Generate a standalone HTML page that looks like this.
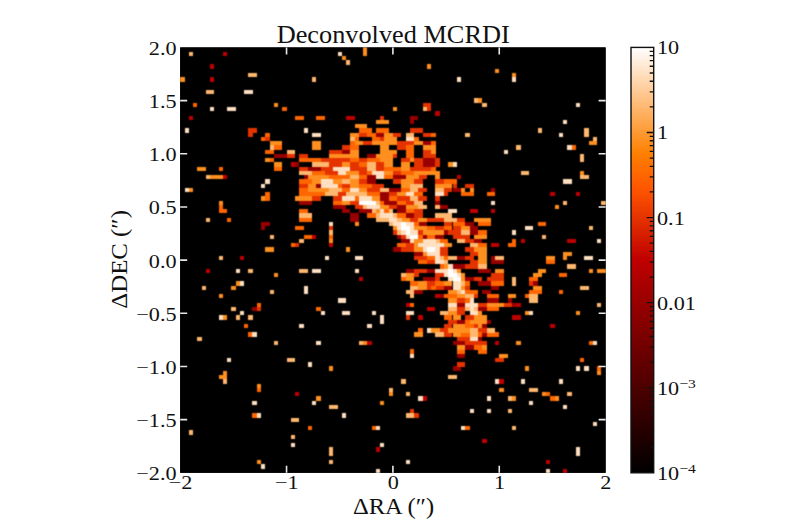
<!DOCTYPE html><html><head><meta charset="utf-8"><style>
html,body{margin:0;padding:0;background:#fff;width:800px;height:530px;overflow:hidden}
svg{display:block}
text{font-family:'Liberation Serif',serif;fill:#111}
</style></head><body>
<svg width="800" height="530" viewBox="0 0 800 530">
<defs>
<filter id="bl" x="0" y="0" width="1" height="1" color-interpolation-filters="sRGB"><feConvolveMatrix order="3" kernelMatrix="0.04 0.12 0.04 0.12 0.36 0.12 0.04 0.12 0.04" edgeMode="duplicate"/></filter>
<linearGradient id="cb" x1="0" y1="1" x2="0" y2="0">
<stop offset="0" stop-color="#000"/>
<stop offset="0.5" stop-color="rgb(191,0,0)"/>
<stop offset="0.6667" stop-color="rgb(255,85,0)"/>
<stop offset="0.75" stop-color="rgb(255,128,0)"/>
<stop offset="1" stop-color="#fff"/>
</linearGradient>
</defs>

<text x="393.2" y="43.2" font-size="24.5" text-anchor="middle" textLength="233" lengthAdjust="spacingAndGlyphs">Deconvolved MCRDI</text>
<rect x="180.2" y="47.4" width="425.40" height="425.40" fill="#000"/>
<svg x="180.2" y="47.4" width="425.40" height="425.40" viewBox="180.2 47.4 425.40 425.40"><g filter="url(#bl)"><rect x="180.2" y="47.4" width="425.40" height="425.40" fill="#000"/><g shape-rendering="crispEdges"><path fill="#990000" d="M409.9 115.5h8.5v4.3h-8.5zM409.9 119.7h4.3v4.3h-4.3zM375.9 132.5h8.5v4.3h-8.5zM422.7 141.0h8.5v4.3h-8.5zM341.9 149.5h8.5v4.3h-8.5zM273.8 153.8h12.8v4.3h-12.8zM367.4 153.8h8.5v4.3h-8.5zM422.7 158.0h12.8v4.3h-12.8zM295.1 162.3h4.3v4.3h-4.3zM422.7 162.3h12.8v4.3h-12.8zM307.8 166.5h12.8v4.3h-12.8zM303.6 175.0h4.3v4.3h-4.3zM367.4 175.0h8.5v4.3h-8.5zM392.9 175.0h12.8v4.3h-12.8zM367.4 179.3h8.5v4.3h-8.5zM316.3 183.5h4.3v4.3h-4.3zM388.6 187.8h12.8v4.3h-12.8zM452.5 187.8h8.5v4.3h-8.5zM490.7 187.8h4.3v4.3h-4.3zM380.1 192.0h8.5v4.3h-8.5zM380.1 196.3h8.5v4.3h-8.5zM299.3 200.5h12.8v4.3h-12.8zM384.4 200.5h12.8v4.3h-12.8zM435.4 200.5h4.3v4.3h-4.3zM333.3 204.8h12.8v4.3h-12.8zM397.2 204.8h8.5v4.3h-8.5zM439.7 204.8h8.5v4.3h-8.5zM341.9 209.1h8.5v4.3h-8.5zM358.9 209.1h12.8v4.3h-12.8zM397.2 209.1h8.5v4.3h-8.5zM350.4 213.3h8.5v4.3h-8.5zM405.7 213.3h8.5v4.3h-8.5zM350.4 217.6h8.5v4.3h-8.5zM261.0 221.8h8.5v4.3h-8.5zM418.4 221.8h8.5v4.3h-8.5zM465.2 221.8h8.5v4.3h-8.5zM261.0 226.1h4.3v4.3h-4.3zM469.5 226.1h8.5v4.3h-8.5zM443.9 230.3h4.3v4.3h-4.3zM469.5 230.3h8.5v4.3h-8.5zM397.2 234.6h4.3v4.3h-4.3zM422.7 234.6h4.3v4.3h-4.3zM435.4 234.6h8.5v4.3h-8.5zM401.4 238.8h8.5v4.3h-8.5zM473.7 238.8h8.5v4.3h-8.5zM392.9 247.3h8.5v4.3h-8.5zM414.2 251.6h8.5v4.3h-8.5zM456.7 255.8h8.5v4.3h-8.5zM490.7 255.8h4.3v4.3h-4.3zM490.7 260.1h12.8v4.3h-12.8zM452.5 264.4h12.8v4.3h-12.8zM405.7 268.6h8.5v4.3h-8.5zM426.9 268.6h8.5v4.3h-8.5zM478.0 268.6h12.8v4.3h-12.8zM422.7 277.1h12.8v4.3h-12.8zM465.2 277.1h8.5v4.3h-8.5zM478.0 281.4h12.8v4.3h-12.8zM533.3 281.4h4.3v4.3h-4.3zM443.9 285.6h8.5v4.3h-8.5zM490.7 285.6h8.5v4.3h-8.5zM414.2 289.9h8.5v4.3h-8.5zM482.2 289.9h8.5v4.3h-8.5zM439.7 294.1h4.3v4.3h-4.3zM486.5 298.4h12.8v4.3h-12.8zM507.8 298.4h4.3v4.3h-4.3zM456.7 302.6h8.5v4.3h-8.5zM512.0 302.6h4.3v4.3h-4.3zM252.5 306.9h4.3v4.3h-4.3zM478.0 306.9h8.5v4.3h-8.5zM456.7 319.7h8.5v4.3h-8.5zM486.5 319.7h4.3v4.3h-4.3zM482.2 323.9h4.3v4.3h-4.3zM482.2 332.4h4.3v4.3h-4.3zM478.0 336.7h4.3v4.3h-4.3zM452.5 340.9h12.8v4.3h-12.8zM465.2 345.2h8.5v4.3h-8.5zM456.7 353.7h8.5v4.3h-8.5zM452.5 366.4h8.5v4.3h-8.5z"/>
<path fill="#bf0000" d="M222.7 51.7h4.3v4.3h-4.3zM210.0 64.4h4.3v4.3h-4.3zM210.0 77.2h4.3v4.3h-4.3zM435.4 111.2h4.3v4.3h-4.3zM188.7 115.5h4.3v4.3h-4.3zM346.1 115.5h8.5v4.3h-8.5zM290.8 162.3h4.3v4.3h-4.3zM222.7 175.0h4.3v4.3h-4.3zM456.7 175.0h4.3v4.3h-4.3zM550.3 192.0h4.3v4.3h-4.3zM575.8 192.0h4.3v4.3h-4.3zM469.5 209.1h8.5v4.3h-8.5zM490.7 209.1h4.3v4.3h-4.3zM312.1 234.6h4.3v4.3h-4.3zM520.5 238.8h4.3v4.3h-4.3zM567.3 238.8h8.5v4.3h-8.5zM329.1 243.1h4.3v4.3h-4.3zM490.7 243.1h8.5v4.3h-8.5zM239.8 255.8h4.3v4.3h-4.3zM205.7 268.6h4.3v4.3h-4.3zM358.9 277.1h4.3v4.3h-4.3zM435.4 294.1h4.3v4.3h-4.3zM405.7 302.6h4.3v4.3h-4.3zM516.3 302.6h4.3v4.3h-4.3zM426.9 306.9h8.5v4.3h-8.5zM418.4 315.4h4.3v4.3h-4.3zM512.0 315.4h8.5v4.3h-8.5zM550.3 323.9h4.3v4.3h-4.3zM367.4 340.9h4.3v4.3h-4.3zM495.0 340.9h4.3v4.3h-4.3zM499.2 379.2h4.3v4.3h-4.3zM295.1 392.0h4.3v4.3h-4.3zM422.7 396.2h4.3v4.3h-4.3zM482.2 438.8h4.3v4.3h-4.3zM375.9 447.3h4.3v4.3h-4.3zM546.0 460.0h4.3v4.3h-4.3zM563.1 468.5h4.3v4.3h-4.3z"/>
<path fill="#e53300" d="M422.7 102.7h8.5v4.3h-8.5zM426.9 107.0h4.3v4.3h-4.3zM380.1 115.5h4.3v4.3h-4.3zM248.3 128.2h8.5v4.3h-8.5zM409.9 128.2h12.8v4.3h-12.8zM248.3 132.5h4.3v4.3h-4.3zM358.9 132.5h8.5v4.3h-8.5zM392.9 132.5h8.5v4.3h-8.5zM422.7 132.5h8.5v4.3h-8.5zM265.3 136.7h4.3v4.3h-4.3zM380.1 136.7h4.3v4.3h-4.3zM363.1 141.0h8.5v4.3h-8.5zM397.2 141.0h17.0v4.3h-17.0zM341.9 145.2h8.5v4.3h-8.5zM397.2 145.2h8.5v4.3h-8.5zM329.1 149.5h12.8v4.3h-12.8zM422.7 149.5h8.5v4.3h-8.5zM286.5 153.8h8.5v4.3h-8.5zM299.3 153.8h8.5v4.3h-8.5zM392.9 153.8h4.3v4.3h-4.3zM422.7 153.8h12.8v4.3h-12.8zM320.6 158.0h29.8v4.3h-29.8zM358.9 158.0h8.5v4.3h-8.5zM401.4 158.0h8.5v4.3h-8.5zM414.2 158.0h8.5v4.3h-8.5zM435.4 158.0h4.3v4.3h-4.3zM329.1 162.3h12.8v4.3h-12.8zM350.4 162.3h8.5v4.3h-8.5zM375.9 162.3h8.5v4.3h-8.5zM414.2 162.3h8.5v4.3h-8.5zM435.4 162.3h4.3v4.3h-4.3zM299.3 166.5h8.5v4.3h-8.5zM320.6 166.5h12.8v4.3h-12.8zM350.4 166.5h17.0v4.3h-17.0zM375.9 166.5h8.5v4.3h-8.5zM409.9 166.5h21.3v4.3h-21.3zM324.8 170.8h12.8v4.3h-12.8zM358.9 170.8h8.5v4.3h-8.5zM392.9 170.8h8.5v4.3h-8.5zM418.4 175.0h8.5v4.3h-8.5zM358.9 179.3h8.5v4.3h-8.5zM392.9 179.3h8.5v4.3h-8.5zM414.2 179.3h8.5v4.3h-8.5zM435.4 179.3h8.5v4.3h-8.5zM299.3 183.5h8.5v4.3h-8.5zM341.9 183.5h8.5v4.3h-8.5zM371.6 183.5h12.8v4.3h-12.8zM452.5 183.5h4.3v4.3h-4.3zM465.2 183.5h8.5v4.3h-8.5zM367.4 187.8h12.8v4.3h-12.8zM418.4 187.8h8.5v4.3h-8.5zM443.9 187.8h8.5v4.3h-8.5zM337.6 192.0h8.5v4.3h-8.5zM388.6 192.0h8.5v4.3h-8.5zM443.9 192.0h4.3v4.3h-4.3zM312.1 196.3h8.5v4.3h-8.5zM333.3 196.3h8.5v4.3h-8.5zM397.2 196.3h12.8v4.3h-12.8zM418.4 196.3h8.5v4.3h-8.5zM435.4 196.3h4.3v4.3h-4.3zM350.4 200.5h8.5v4.3h-8.5zM405.7 200.5h8.5v4.3h-8.5zM354.6 204.8h8.5v4.3h-8.5zM388.6 204.8h8.5v4.3h-8.5zM414.2 209.1h8.5v4.3h-8.5zM414.2 213.3h8.5v4.3h-8.5zM409.9 217.6h8.5v4.3h-8.5zM426.9 217.6h17.0v4.3h-17.0zM456.7 217.6h8.5v4.3h-8.5zM443.9 221.8h8.5v4.3h-8.5zM329.1 226.1h4.3v4.3h-4.3zM435.4 226.1h8.5v4.3h-8.5zM452.5 226.1h8.5v4.3h-8.5zM392.9 230.3h4.3v4.3h-4.3zM418.4 230.3h4.3v4.3h-4.3zM448.2 230.3h12.8v4.3h-12.8zM401.4 234.6h4.3v4.3h-4.3zM452.5 234.6h17.0v4.3h-17.0zM465.2 238.8h8.5v4.3h-8.5zM295.1 243.1h4.3v4.3h-4.3zM405.7 243.1h8.5v4.3h-8.5zM401.4 247.3h12.8v4.3h-12.8zM439.7 247.3h8.5v4.3h-8.5zM465.2 247.3h8.5v4.3h-8.5zM439.7 251.6h8.5v4.3h-8.5zM469.5 251.6h8.5v4.3h-8.5zM414.2 255.8h12.8v4.3h-12.8zM465.2 255.8h8.5v4.3h-8.5zM426.9 260.1h8.5v4.3h-8.5zM469.5 260.1h8.5v4.3h-8.5zM465.2 264.4h12.8v4.3h-12.8zM414.2 268.6h12.8v4.3h-12.8zM414.2 272.9h4.3v4.3h-4.3zM435.4 272.9h8.5v4.3h-8.5zM490.7 272.9h12.8v4.3h-12.8zM435.4 277.1h4.3v4.3h-4.3zM473.7 277.1h8.5v4.3h-8.5zM486.5 277.1h17.0v4.3h-17.0zM426.9 281.4h8.5v4.3h-8.5zM529.0 281.4h4.3v4.3h-4.3zM426.9 285.6h4.3v4.3h-4.3zM435.4 285.6h8.5v4.3h-8.5zM465.2 285.6h4.3v4.3h-4.3zM473.7 294.1h4.3v4.3h-4.3zM456.7 298.4h8.5v4.3h-8.5zM478.0 302.6h8.5v4.3h-8.5zM503.5 302.6h8.5v4.3h-8.5zM256.8 306.9h4.3v4.3h-4.3zM456.7 306.9h8.5v4.3h-8.5zM456.7 311.1h8.5v4.3h-8.5zM405.7 315.4h4.3v4.3h-4.3zM465.2 315.4h8.5v4.3h-8.5zM448.2 319.7h8.5v4.3h-8.5zM443.9 323.9h8.5v4.3h-8.5zM473.7 323.9h4.3v4.3h-4.3zM439.7 328.2h8.5v4.3h-8.5zM478.0 328.2h8.5v4.3h-8.5zM443.9 332.4h8.5v4.3h-8.5zM456.7 336.7h12.8v4.3h-12.8zM465.2 340.9h21.3v4.3h-21.3zM495.0 357.9h8.5v4.3h-8.5zM456.7 362.2h8.5v4.3h-8.5zM409.9 409.0h4.3v4.3h-4.3zM414.2 413.2h4.3v4.3h-4.3z"/>
<path fill="#ff6600" d="M193.0 102.7h4.3v4.3h-4.3zM282.3 107.0h4.3v4.3h-4.3zM295.1 115.5h8.5v4.3h-8.5zM316.3 115.5h8.5v4.3h-8.5zM358.9 128.2h12.8v4.3h-12.8zM375.9 128.2h12.8v4.3h-12.8zM265.3 132.5h4.3v4.3h-4.3zM367.4 132.5h8.5v4.3h-8.5zM431.2 132.5h4.3v4.3h-4.3zM261.0 136.7h4.3v4.3h-4.3zM354.6 136.7h4.3v4.3h-4.3zM371.6 136.7h8.5v4.3h-8.5zM414.2 136.7h4.3v4.3h-4.3zM350.4 141.0h4.3v4.3h-4.3zM431.2 141.0h4.3v4.3h-4.3zM273.8 145.2h8.5v4.3h-8.5zM350.4 145.2h8.5v4.3h-8.5zM405.7 145.2h8.5v4.3h-8.5zM571.6 145.2h4.3v4.3h-4.3zM265.3 149.5h8.5v4.3h-8.5zM405.7 149.5h8.5v4.3h-8.5zM405.7 153.8h8.5v4.3h-8.5zM269.5 158.0h4.3v4.3h-4.3zM299.3 158.0h21.3v4.3h-21.3zM350.4 158.0h8.5v4.3h-8.5zM367.4 158.0h12.8v4.3h-12.8zM358.9 162.3h8.5v4.3h-8.5zM218.5 166.5h4.3v4.3h-4.3zM273.8 166.5h8.5v4.3h-8.5zM384.4 166.5h17.0v4.3h-17.0zM431.2 166.5h4.3v4.3h-4.3zM312.1 170.8h12.8v4.3h-12.8zM367.4 170.8h4.3v4.3h-4.3zM401.4 170.8h12.8v4.3h-12.8zM329.1 175.0h21.3v4.3h-21.3zM358.9 175.0h8.5v4.3h-8.5zM384.4 175.0h8.5v4.3h-8.5zM299.3 179.3h12.8v4.3h-12.8zM443.9 179.3h12.8v4.3h-12.8zM337.6 183.5h4.3v4.3h-4.3zM358.9 183.5h12.8v4.3h-12.8zM299.3 187.8h8.5v4.3h-8.5zM341.9 187.8h8.5v4.3h-8.5zM401.4 187.8h8.5v4.3h-8.5zM265.3 192.0h4.3v4.3h-4.3zM299.3 192.0h25.5v4.3h-25.5zM367.4 192.0h12.8v4.3h-12.8zM414.2 192.0h8.5v4.3h-8.5zM461.0 192.0h12.8v4.3h-12.8zM486.5 192.0h8.5v4.3h-8.5zM265.3 196.3h4.3v4.3h-4.3zM354.6 196.3h4.3v4.3h-4.3zM388.6 196.3h8.5v4.3h-8.5zM333.3 200.5h8.5v4.3h-8.5zM380.1 200.5h4.3v4.3h-4.3zM397.2 200.5h8.5v4.3h-8.5zM218.5 204.8h4.3v4.3h-4.3zM218.5 209.1h8.5v4.3h-8.5zM299.3 209.1h8.5v4.3h-8.5zM384.4 209.1h4.3v4.3h-4.3zM405.7 209.1h8.5v4.3h-8.5zM367.4 213.3h8.5v4.3h-8.5zM397.2 213.3h8.5v4.3h-8.5zM227.0 217.6h4.3v4.3h-4.3zM299.3 217.6h12.8v4.3h-12.8zM414.2 221.8h4.3v4.3h-4.3zM452.5 221.8h12.8v4.3h-12.8zM478.0 221.8h12.8v4.3h-12.8zM537.5 221.8h8.5v4.3h-8.5zM295.1 226.1h8.5v4.3h-8.5zM426.9 226.1h8.5v4.3h-8.5zM443.9 226.1h8.5v4.3h-8.5zM478.0 230.3h8.5v4.3h-8.5zM303.6 234.6h8.5v4.3h-8.5zM329.1 234.6h4.3v4.3h-4.3zM418.4 234.6h4.3v4.3h-4.3zM426.9 234.6h8.5v4.3h-8.5zM439.7 238.8h8.5v4.3h-8.5zM512.0 238.8h4.3v4.3h-4.3zM290.8 243.1h4.3v4.3h-4.3zM397.2 243.1h8.5v4.3h-8.5zM478.0 243.1h8.5v4.3h-8.5zM507.8 243.1h8.5v4.3h-8.5zM426.9 255.8h8.5v4.3h-8.5zM443.9 255.8h4.3v4.3h-4.3zM418.4 260.1h8.5v4.3h-8.5zM546.0 260.1h8.5v4.3h-8.5zM439.7 264.4h4.3v4.3h-4.3zM558.8 272.9h8.5v4.3h-8.5zM401.4 277.1h4.3v4.3h-4.3zM529.0 277.1h8.5v4.3h-8.5zM409.9 281.4h8.5v4.3h-8.5zM435.4 281.4h8.5v4.3h-8.5zM465.2 281.4h4.3v4.3h-4.3zM490.7 281.4h12.8v4.3h-12.8zM431.2 285.6h4.3v4.3h-4.3zM465.2 289.9h12.8v4.3h-12.8zM529.0 289.9h12.8v4.3h-12.8zM558.8 289.9h4.3v4.3h-4.3zM443.9 294.1h12.8v4.3h-12.8zM486.5 294.1h12.8v4.3h-12.8zM524.8 294.1h4.3v4.3h-4.3zM465.2 298.4h4.3v4.3h-4.3zM256.8 302.6h4.3v4.3h-4.3zM409.9 302.6h4.3v4.3h-4.3zM316.3 306.9h4.3v4.3h-4.3zM486.5 306.9h12.8v4.3h-12.8zM443.9 315.4h8.5v4.3h-8.5zM465.2 319.7h4.3v4.3h-4.3zM244.0 323.9h4.3v4.3h-4.3zM465.2 323.9h8.5v4.3h-8.5zM418.4 328.2h4.3v4.3h-4.3zM248.3 332.4h4.3v4.3h-4.3zM461.0 332.4h8.5v4.3h-8.5zM478.0 332.4h4.3v4.3h-4.3zM486.5 332.4h12.8v4.3h-12.8zM588.6 340.9h4.3v4.3h-4.3zM473.7 345.2h8.5v4.3h-8.5zM409.9 349.4h4.3v4.3h-4.3zM456.7 349.4h8.5v4.3h-8.5zM478.0 349.4h8.5v4.3h-8.5zM580.1 357.9h4.3v4.3h-4.3zM597.1 366.4h4.3v4.3h-4.3zM256.8 387.7h4.3v4.3h-4.3zM546.0 392.0h4.3v4.3h-4.3zM550.3 396.2h4.3v4.3h-4.3zM252.5 413.2h4.3v4.3h-4.3zM307.8 426.0h4.3v4.3h-4.3zM371.6 426.0h4.3v4.3h-4.3zM465.2 426.0h4.3v4.3h-4.3z"/>
<path fill="#ff8f1f" d="M363.1 47.4h4.3v4.3h-4.3zM363.1 51.7h4.3v4.3h-4.3zM341.9 55.9h4.3v4.3h-4.3zM426.9 64.4h4.3v4.3h-4.3zM495.0 68.7h4.3v4.3h-4.3zM512.0 72.9h4.3v4.3h-4.3zM180.2 77.2h4.3v4.3h-4.3zM478.0 98.4h4.3v4.3h-4.3zM273.8 102.7h4.3v4.3h-4.3zM392.9 107.0h4.3v4.3h-4.3zM375.9 119.7h12.8v4.3h-12.8zM354.6 124.0h12.8v4.3h-12.8zM350.4 132.5h8.5v4.3h-8.5zM384.4 132.5h8.5v4.3h-8.5zM384.4 136.7h12.8v4.3h-12.8zM269.5 141.0h12.8v4.3h-12.8zM312.1 141.0h8.5v4.3h-8.5zM354.6 141.0h8.5v4.3h-8.5zM371.6 141.0h25.5v4.3h-25.5zM414.2 141.0h8.5v4.3h-8.5zM588.6 141.0h8.5v4.3h-8.5zM312.1 145.2h8.5v4.3h-8.5zM380.1 145.2h8.5v4.3h-8.5zM422.7 145.2h12.8v4.3h-12.8zM350.4 149.5h8.5v4.3h-8.5zM380.1 149.5h17.0v4.3h-17.0zM431.2 149.5h4.3v4.3h-4.3zM329.1 153.8h29.8v4.3h-29.8zM375.9 153.8h17.0v4.3h-17.0zM265.3 158.0h4.3v4.3h-4.3zM380.1 158.0h12.8v4.3h-12.8zM409.9 158.0h4.3v4.3h-4.3zM273.8 162.3h8.5v4.3h-8.5zM341.9 162.3h8.5v4.3h-8.5zM384.4 162.3h8.5v4.3h-8.5zM401.4 162.3h8.5v4.3h-8.5zM448.2 162.3h4.3v4.3h-4.3zM197.2 166.5h8.5v4.3h-8.5zM401.4 166.5h8.5v4.3h-8.5zM346.1 170.8h12.8v4.3h-12.8zM384.4 170.8h8.5v4.3h-8.5zM414.2 170.8h25.5v4.3h-25.5zM580.1 170.8h4.3v4.3h-4.3zM210.0 175.0h12.8v4.3h-12.8zM307.8 175.0h21.3v4.3h-21.3zM405.7 175.0h12.8v4.3h-12.8zM435.4 175.0h4.3v4.3h-4.3zM312.1 179.3h8.5v4.3h-8.5zM333.3 179.3h8.5v4.3h-8.5zM350.4 179.3h8.5v4.3h-8.5zM401.4 179.3h12.8v4.3h-12.8zM307.8 183.5h8.5v4.3h-8.5zM350.4 183.5h8.5v4.3h-8.5zM401.4 183.5h8.5v4.3h-8.5zM435.4 183.5h17.0v4.3h-17.0zM188.7 187.8h4.3v4.3h-4.3zM307.8 187.8h21.3v4.3h-21.3zM358.9 187.8h8.5v4.3h-8.5zM461.0 187.8h4.3v4.3h-4.3zM469.5 187.8h4.3v4.3h-4.3zM397.2 192.0h8.5v4.3h-8.5zM261.0 196.3h4.3v4.3h-4.3zM295.1 196.3h17.0v4.3h-17.0zM371.6 196.3h8.5v4.3h-8.5zM218.5 200.5h4.3v4.3h-4.3zM341.9 200.5h8.5v4.3h-8.5zM380.1 204.8h8.5v4.3h-8.5zM405.7 204.8h12.8v4.3h-12.8zM554.6 204.8h4.3v4.3h-4.3zM375.9 209.1h4.3v4.3h-4.3zM401.4 217.6h8.5v4.3h-8.5zM418.4 217.6h8.5v4.3h-8.5zM473.7 217.6h17.0v4.3h-17.0zM354.6 221.8h4.3v4.3h-4.3zM392.9 226.1h4.3v4.3h-4.3zM414.2 226.1h12.8v4.3h-12.8zM461.0 226.1h8.5v4.3h-8.5zM422.7 230.3h21.3v4.3h-21.3zM473.7 234.6h12.8v4.3h-12.8zM329.1 238.8h4.3v4.3h-4.3zM414.2 238.8h8.5v4.3h-8.5zM414.2 243.1h4.3v4.3h-4.3zM443.9 243.1h8.5v4.3h-8.5zM265.3 247.3h8.5v4.3h-8.5zM346.1 247.3h4.3v4.3h-4.3zM414.2 247.3h8.5v4.3h-8.5zM473.7 247.3h12.8v4.3h-12.8zM422.7 251.6h4.3v4.3h-4.3zM478.0 251.6h8.5v4.3h-8.5zM563.1 251.6h8.5v4.3h-8.5zM478.0 255.8h8.5v4.3h-8.5zM546.0 255.8h8.5v4.3h-8.5zM563.1 255.8h4.3v4.3h-4.3zM478.0 260.1h8.5v4.3h-8.5zM443.9 264.4h4.3v4.3h-4.3zM456.7 268.6h4.3v4.3h-4.3zM495.0 268.6h8.5v4.3h-8.5zM537.5 268.6h8.5v4.3h-8.5zM588.6 268.6h4.3v4.3h-4.3zM597.1 268.6h8.5v4.3h-8.5zM273.8 272.9h4.3v4.3h-4.3zM405.7 272.9h8.5v4.3h-8.5zM461.0 272.9h4.3v4.3h-4.3zM533.3 272.9h8.5v4.3h-8.5zM405.7 277.1h8.5v4.3h-8.5zM461.0 277.1h4.3v4.3h-4.3zM235.5 281.4h4.3v4.3h-4.3zM418.4 281.4h8.5v4.3h-8.5zM443.9 281.4h8.5v4.3h-8.5zM231.2 285.6h4.3v4.3h-4.3zM418.4 285.6h8.5v4.3h-8.5zM461.0 285.6h4.3v4.3h-4.3zM533.3 285.6h8.5v4.3h-8.5zM448.2 289.9h8.5v4.3h-8.5zM218.5 294.1h4.3v4.3h-4.3zM456.7 294.1h8.5v4.3h-8.5zM507.8 294.1h8.5v4.3h-8.5zM448.2 298.4h8.5v4.3h-8.5zM486.5 302.6h17.0v4.3h-17.0zM448.2 311.1h8.5v4.3h-8.5zM478.0 311.1h4.3v4.3h-4.3zM524.8 311.1h4.3v4.3h-4.3zM575.8 311.1h4.3v4.3h-4.3zM222.7 315.4h4.3v4.3h-4.3zM452.5 315.4h8.5v4.3h-8.5zM473.7 315.4h12.8v4.3h-12.8zM469.5 319.7h17.0v4.3h-17.0zM452.5 323.9h12.8v4.3h-12.8zM478.0 323.9h4.3v4.3h-4.3zM431.2 328.2h8.5v4.3h-8.5zM448.2 328.2h21.3v4.3h-21.3zM414.2 332.4h8.5v4.3h-8.5zM452.5 332.4h8.5v4.3h-8.5zM363.1 340.9h4.3v4.3h-4.3zM516.3 340.9h4.3v4.3h-4.3zM456.7 345.2h8.5v4.3h-8.5zM482.2 345.2h4.3v4.3h-4.3zM499.2 353.7h8.5v4.3h-8.5zM329.1 366.4h4.3v4.3h-4.3zM524.8 366.4h4.3v4.3h-4.3zM222.7 370.7h4.3v4.3h-4.3zM597.1 370.7h4.3v4.3h-4.3zM218.5 375.0h8.5v4.3h-8.5zM256.8 383.5h4.3v4.3h-4.3zM499.2 387.7h4.3v4.3h-4.3zM388.6 392.0h4.3v4.3h-4.3zM541.8 392.0h4.3v4.3h-4.3zM316.3 396.2h4.3v4.3h-4.3zM512.0 396.2h4.3v4.3h-4.3zM554.6 396.2h4.3v4.3h-4.3zM380.1 400.5h4.3v4.3h-4.3zM256.8 460.0h4.3v4.3h-4.3z"/>
<path fill="#ffb870" d="M188.7 51.7h4.3v4.3h-4.3zM346.1 60.2h4.3v4.3h-4.3zM248.3 72.9h8.5v4.3h-8.5zM312.1 77.2h4.3v4.3h-4.3zM205.7 89.9h8.5v4.3h-8.5zM473.7 98.4h4.3v4.3h-4.3zM482.2 102.7h4.3v4.3h-4.3zM422.7 107.0h4.3v4.3h-4.3zM537.5 128.2h4.3v4.3h-4.3zM584.3 128.2h4.3v4.3h-4.3zM405.7 132.5h8.5v4.3h-8.5zM465.2 132.5h4.3v4.3h-4.3zM584.3 132.5h4.3v4.3h-4.3zM350.4 136.7h4.3v4.3h-4.3zM592.8 136.7h4.3v4.3h-4.3zM269.5 145.2h4.3v4.3h-4.3zM516.3 145.2h4.3v4.3h-4.3zM286.5 149.5h8.5v4.3h-8.5zM580.1 153.8h4.3v4.3h-4.3zM580.1 158.0h4.3v4.3h-4.3zM312.1 162.3h17.0v4.3h-17.0zM367.4 162.3h8.5v4.3h-8.5zM367.4 166.5h8.5v4.3h-8.5zM299.3 170.8h12.8v4.3h-12.8zM520.5 170.8h8.5v4.3h-8.5zM205.7 175.0h4.3v4.3h-4.3zM350.4 175.0h8.5v4.3h-8.5zM580.1 175.0h8.5v4.3h-8.5zM341.9 179.3h8.5v4.3h-8.5zM409.9 183.5h12.8v4.3h-12.8zM329.1 187.8h12.8v4.3h-12.8zM380.1 187.8h8.5v4.3h-8.5zM409.9 187.8h8.5v4.3h-8.5zM435.4 187.8h8.5v4.3h-8.5zM324.8 192.0h12.8v4.3h-12.8zM346.1 192.0h21.3v4.3h-21.3zM409.9 196.3h8.5v4.3h-8.5zM375.9 200.5h4.3v4.3h-4.3zM414.2 200.5h8.5v4.3h-8.5zM563.1 200.5h4.3v4.3h-4.3zM601.3 200.5h4.3v4.3h-4.3zM363.1 204.8h4.3v4.3h-4.3zM418.4 204.8h8.5v4.3h-8.5zM435.4 204.8h4.3v4.3h-4.3zM371.6 209.1h4.3v4.3h-4.3zM388.6 209.1h4.3v4.3h-4.3zM299.3 213.3h12.8v4.3h-12.8zM375.9 213.3h4.3v4.3h-4.3zM392.9 213.3h4.3v4.3h-4.3zM435.4 213.3h17.0v4.3h-17.0zM205.7 217.6h4.3v4.3h-4.3zM375.9 217.6h12.8v4.3h-12.8zM397.2 217.6h4.3v4.3h-4.3zM443.9 217.6h12.8v4.3h-12.8zM388.6 221.8h4.3v4.3h-4.3zM588.6 226.1h4.3v4.3h-4.3zM329.1 230.3h4.3v4.3h-4.3zM397.2 230.3h4.3v4.3h-4.3zM461.0 230.3h8.5v4.3h-8.5zM269.5 234.6h4.3v4.3h-4.3zM541.8 234.6h4.3v4.3h-4.3zM299.3 238.8h4.3v4.3h-4.3zM435.4 238.8h4.3v4.3h-4.3zM456.7 238.8h8.5v4.3h-8.5zM469.5 243.1h8.5v4.3h-8.5zM218.5 255.8h4.3v4.3h-4.3zM439.7 255.8h4.3v4.3h-4.3zM448.2 255.8h8.5v4.3h-8.5zM495.0 255.8h8.5v4.3h-8.5zM443.9 260.1h4.3v4.3h-4.3zM478.0 264.4h8.5v4.3h-8.5zM567.3 264.4h8.5v4.3h-8.5zM248.3 268.6h4.3v4.3h-4.3zM299.3 268.6h8.5v4.3h-8.5zM401.4 272.9h4.3v4.3h-4.3zM512.0 277.1h4.3v4.3h-4.3zM461.0 281.4h4.3v4.3h-4.3zM512.0 281.4h4.3v4.3h-4.3zM201.5 285.6h4.3v4.3h-4.3zM409.9 285.6h8.5v4.3h-8.5zM580.1 285.6h8.5v4.3h-8.5zM269.5 289.9h4.3v4.3h-4.3zM405.7 289.9h8.5v4.3h-8.5zM456.7 289.9h4.3v4.3h-4.3zM409.9 294.1h4.3v4.3h-4.3zM465.2 294.1h8.5v4.3h-8.5zM529.0 294.1h8.5v4.3h-8.5zM529.0 298.4h8.5v4.3h-8.5zM597.1 302.6h4.3v4.3h-4.3zM231.2 306.9h4.3v4.3h-4.3zM448.2 306.9h8.5v4.3h-8.5zM465.2 306.9h4.3v4.3h-4.3zM473.7 306.9h4.3v4.3h-4.3zM439.7 311.1h8.5v4.3h-8.5zM235.5 315.4h4.3v4.3h-4.3zM248.3 315.4h4.3v4.3h-4.3zM469.5 328.2h8.5v4.3h-8.5zM486.5 328.2h8.5v4.3h-8.5zM435.4 332.4h8.5v4.3h-8.5zM469.5 332.4h8.5v4.3h-8.5zM197.2 336.7h4.3v4.3h-4.3zM273.8 340.9h4.3v4.3h-4.3zM358.9 340.9h4.3v4.3h-4.3zM286.5 357.9h8.5v4.3h-8.5zM448.2 375.0h8.5v4.3h-8.5zM222.7 379.2h4.3v4.3h-4.3zM401.4 379.2h4.3v4.3h-4.3zM388.6 387.7h4.3v4.3h-4.3zM529.0 387.7h8.5v4.3h-8.5zM405.7 392.0h4.3v4.3h-4.3zM567.3 392.0h4.3v4.3h-4.3zM507.8 396.2h4.3v4.3h-4.3zM329.1 404.7h8.5v4.3h-8.5zM507.8 409.0h4.3v4.3h-4.3zM405.7 413.2h8.5v4.3h-8.5zM290.8 417.5h8.5v4.3h-8.5zM512.0 426.0h4.3v4.3h-4.3zM188.7 430.3h4.3v4.3h-4.3zM290.8 434.5h4.3v4.3h-4.3zM329.1 447.3h4.3v4.3h-4.3zM329.1 451.5h4.3v4.3h-4.3zM329.1 460.0h4.3v4.3h-4.3z"/>
<path fill="#ffe0c2" d="M337.6 51.7h4.3v4.3h-4.3zM456.7 77.2h4.3v4.3h-4.3zM512.0 77.2h4.3v4.3h-4.3zM244.0 89.9h8.5v4.3h-8.5zM575.8 102.7h4.3v4.3h-4.3zM210.0 107.0h4.3v4.3h-4.3zM227.0 107.0h8.5v4.3h-8.5zM563.1 119.7h4.3v4.3h-4.3zM184.5 128.2h4.3v4.3h-4.3zM303.6 128.2h4.3v4.3h-4.3zM312.1 132.5h8.5v4.3h-8.5zM558.8 132.5h4.3v4.3h-4.3zM405.7 136.7h8.5v4.3h-8.5zM567.3 145.2h4.3v4.3h-4.3zM503.5 149.5h4.3v4.3h-4.3zM452.5 162.3h4.3v4.3h-4.3zM333.3 166.5h17.0v4.3h-17.0zM337.6 170.8h8.5v4.3h-8.5zM371.6 170.8h12.8v4.3h-12.8zM375.9 175.0h8.5v4.3h-8.5zM265.3 179.3h4.3v4.3h-4.3zM320.6 179.3h12.8v4.3h-12.8zM563.1 179.3h8.5v4.3h-8.5zM261.0 183.5h4.3v4.3h-4.3zM320.6 183.5h17.0v4.3h-17.0zM184.5 187.8h4.3v4.3h-4.3zM350.4 187.8h8.5v4.3h-8.5zM405.7 192.0h8.5v4.3h-8.5zM435.4 192.0h8.5v4.3h-8.5zM341.9 196.3h12.8v4.3h-12.8zM358.9 196.3h12.8v4.3h-12.8zM490.7 200.5h4.3v4.3h-4.3zM367.4 204.8h12.8v4.3h-12.8zM380.1 209.1h4.3v4.3h-4.3zM448.2 209.1h8.5v4.3h-8.5zM380.1 213.3h12.8v4.3h-12.8zM388.6 217.6h8.5v4.3h-8.5zM329.1 221.8h4.3v4.3h-4.3zM392.9 221.8h8.5v4.3h-8.5zM405.7 221.8h8.5v4.3h-8.5zM397.2 226.1h4.3v4.3h-4.3zM409.9 226.1h4.3v4.3h-4.3zM524.8 226.1h8.5v4.3h-8.5zM401.4 230.3h4.3v4.3h-4.3zM409.9 230.3h8.5v4.3h-8.5zM512.0 230.3h4.3v4.3h-4.3zM405.7 234.6h4.3v4.3h-4.3zM409.9 238.8h4.3v4.3h-4.3zM422.7 238.8h12.8v4.3h-12.8zM597.1 238.8h4.3v4.3h-4.3zM418.4 243.1h25.5v4.3h-25.5zM422.7 247.3h4.3v4.3h-4.3zM435.4 247.3h4.3v4.3h-4.3zM426.9 251.6h12.8v4.3h-12.8zM324.8 255.8h4.3v4.3h-4.3zM354.6 255.8h8.5v4.3h-8.5zM435.4 255.8h4.3v4.3h-4.3zM584.3 255.8h8.5v4.3h-8.5zM435.4 260.1h8.5v4.3h-8.5zM448.2 264.4h4.3v4.3h-4.3zM235.5 268.6h4.3v4.3h-4.3zM312.1 268.6h8.5v4.3h-8.5zM354.6 268.6h4.3v4.3h-4.3zM435.4 268.6h12.8v4.3h-12.8zM452.5 268.6h4.3v4.3h-4.3zM443.9 272.9h4.3v4.3h-4.3zM456.7 272.9h4.3v4.3h-4.3zM448.2 277.1h4.3v4.3h-4.3zM239.8 281.4h4.3v4.3h-4.3zM452.5 281.4h8.5v4.3h-8.5zM303.6 285.6h4.3v4.3h-4.3zM452.5 285.6h8.5v4.3h-8.5zM303.6 289.9h4.3v4.3h-4.3zM461.0 289.9h4.3v4.3h-4.3zM337.6 298.4h8.5v4.3h-8.5zM469.5 298.4h4.3v4.3h-4.3zM448.2 302.6h8.5v4.3h-8.5zM465.2 302.6h12.8v4.3h-12.8zM469.5 306.9h4.3v4.3h-4.3zM239.8 311.1h4.3v4.3h-4.3zM320.6 311.1h4.3v4.3h-4.3zM341.9 311.1h8.5v4.3h-8.5zM371.6 311.1h4.3v4.3h-4.3zM405.7 311.1h8.5v4.3h-8.5zM469.5 311.1h8.5v4.3h-8.5zM529.0 311.1h4.3v4.3h-4.3zM218.5 315.4h4.3v4.3h-4.3zM380.1 315.4h4.3v4.3h-4.3zM380.1 319.7h4.3v4.3h-4.3zM299.3 323.9h4.3v4.3h-4.3zM367.4 323.9h4.3v4.3h-4.3zM426.9 328.2h4.3v4.3h-4.3zM252.5 332.4h4.3v4.3h-4.3zM469.5 336.7h8.5v4.3h-8.5zM316.3 340.9h4.3v4.3h-4.3zM592.8 340.9h4.3v4.3h-4.3zM409.9 353.7h4.3v4.3h-4.3zM227.0 357.9h4.3v4.3h-4.3zM307.8 362.2h4.3v4.3h-4.3zM575.8 366.4h4.3v4.3h-4.3zM584.3 366.4h4.3v4.3h-4.3zM495.0 379.2h4.3v4.3h-4.3zM520.5 379.2h4.3v4.3h-4.3zM558.8 379.2h4.3v4.3h-4.3zM418.4 396.2h4.3v4.3h-4.3zM486.5 396.2h4.3v4.3h-4.3zM252.5 400.5h4.3v4.3h-4.3zM312.1 400.5h4.3v4.3h-4.3zM529.0 400.5h4.3v4.3h-4.3zM563.1 404.7h4.3v4.3h-4.3zM469.5 409.0h4.3v4.3h-4.3zM486.5 409.0h4.3v4.3h-4.3zM256.8 413.2h4.3v4.3h-4.3zM341.9 413.2h4.3v4.3h-4.3zM592.8 421.8h4.3v4.3h-4.3zM375.9 426.0h4.3v4.3h-4.3zM461.0 426.0h4.3v4.3h-4.3zM290.8 443.0h4.3v4.3h-4.3zM380.1 443.0h4.3v4.3h-4.3zM575.8 447.3h4.3v4.3h-4.3zM575.8 451.5h4.3v4.3h-4.3zM405.7 460.0h4.3v4.3h-4.3zM261.0 464.3h4.3v4.3h-4.3zM375.9 468.5h4.3v4.3h-4.3zM546.0 468.5h4.3v4.3h-4.3z"/>
<path fill="#ffffff" d="M358.9 200.5h17.0v4.3h-17.0zM401.4 221.8h4.3v4.3h-4.3zM401.4 226.1h8.5v4.3h-8.5zM405.7 230.3h4.3v4.3h-4.3zM409.9 234.6h8.5v4.3h-8.5zM426.9 247.3h8.5v4.3h-8.5zM448.2 268.6h4.3v4.3h-4.3zM448.2 272.9h8.5v4.3h-8.5zM452.5 277.1h8.5v4.3h-8.5z"/></g></g></svg>
<path d="M286.55 47.4v7M286.55 472.8v-7M392.90 47.4v7M392.90 472.8v-7M499.25 47.4v7M499.25 472.8v-7M180.2 100.58h7M605.6 100.58h-7M180.2 153.75h7M605.6 153.75h-7M180.2 206.93h7M605.6 206.93h-7M180.2 260.10h7M605.6 260.10h-7M180.2 313.27h7M605.6 313.27h-7M180.2 366.45h7M605.6 366.45h-7M180.2 419.62h7M605.6 419.62h-7" stroke="#e8e8e8" stroke-width="1.6" fill="none"/>
<text transform="translate(176.60,54.90) scale(1.2,1)" font-size="18.5" text-anchor="end">2.0</text>
<text transform="translate(176.60,108.08) scale(1.2,1)" font-size="18.5" text-anchor="end">1.5</text>
<text transform="translate(176.60,161.25) scale(1.2,1)" font-size="18.5" text-anchor="end">1.0</text>
<text transform="translate(176.60,214.43) scale(1.2,1)" font-size="18.5" text-anchor="end">0.5</text>
<text transform="translate(176.60,267.60) scale(1.2,1)" font-size="18.5" text-anchor="end">0.0</text>
<text transform="translate(176.60,320.77) scale(1.2,1)" font-size="18.5" text-anchor="end">−0.5</text>
<text transform="translate(176.60,373.95) scale(1.2,1)" font-size="18.5" text-anchor="end">−1.0</text>
<text transform="translate(176.60,427.12) scale(1.2,1)" font-size="18.5" text-anchor="end">−1.5</text>
<text transform="translate(176.60,480.30) scale(1.2,1)" font-size="18.5" text-anchor="end">−2.0</text>
<text transform="translate(180.50,488.80) scale(1.2,1)" font-size="18.5" text-anchor="middle">−2</text>
<text transform="translate(286.85,488.80) scale(1.2,1)" font-size="18.5" text-anchor="middle">−1</text>
<text transform="translate(393.20,488.80) scale(1.2,1)" font-size="18.5" text-anchor="middle">0</text>
<text transform="translate(499.55,488.80) scale(1.2,1)" font-size="18.5" text-anchor="middle">1</text>
<text transform="translate(605.90,488.80) scale(1.2,1)" font-size="18.5" text-anchor="middle">2</text>
<text transform="translate(393.50,513.50) scale(1.067,1)" font-size="23" text-anchor="middle">ΔRA (″)</text>
<text transform="translate(126.5,259.4) rotate(-90) scale(1.08,1)" font-size="23" text-anchor="middle">ΔDEC (″)</text>
<rect x="631.0" y="47.4" width="22.70" height="425.40" fill="url(#cb)" stroke="#111" stroke-width="1.4"/>
<path d="M653.7 106.87h-4M653.7 91.89h-4M653.7 81.26h-4M653.7 73.01h-4M653.7 66.27h-4M653.7 60.58h-4M653.7 55.65h-4M653.7 51.29h-4M653.7 191.95h-4M653.7 176.97h-4M653.7 166.34h-4M653.7 158.09h-4M653.7 151.35h-4M653.7 145.66h-4M653.7 140.73h-4M653.7 136.37h-4M653.7 277.03h-4M653.7 262.05h-4M653.7 251.42h-4M653.7 243.17h-4M653.7 236.43h-4M653.7 230.74h-4M653.7 225.81h-4M653.7 221.45h-4M653.7 362.11h-4M653.7 347.13h-4M653.7 336.50h-4M653.7 328.25h-4M653.7 321.51h-4M653.7 315.82h-4M653.7 310.89h-4M653.7 306.53h-4M653.7 447.19h-4M653.7 432.21h-4M653.7 421.58h-4M653.7 413.33h-4M653.7 406.59h-4M653.7 400.90h-4M653.7 395.97h-4M653.7 391.61h-4M653.7 132.48h-7M653.7 217.56h-7M653.7 302.64h-7M653.7 387.72h-7" stroke="#111" stroke-width="1.3" fill="none"/>
<text transform="translate(657.00,54.40) scale(1.2,1)" font-size="18.5" text-anchor="start">10</text>
<text transform="translate(657.00,139.48) scale(1.2,1)" font-size="18.5" text-anchor="start">1</text>
<text transform="translate(657.00,224.56) scale(1.2,1)" font-size="18.5" text-anchor="start">0.1</text>
<text transform="translate(657.00,309.64) scale(1.2,1)" font-size="18.5" text-anchor="start">0.01</text>
<text transform="translate(657.00,394.72) scale(1.2,1)" font-size="18.5" text-anchor="start">10<tspan dy="-7" font-size="13">−3</tspan></text>
<text transform="translate(657.00,479.80) scale(1.2,1)" font-size="18.5" text-anchor="start">10<tspan dy="-7" font-size="13">−4</tspan></text>
</svg></body></html>
